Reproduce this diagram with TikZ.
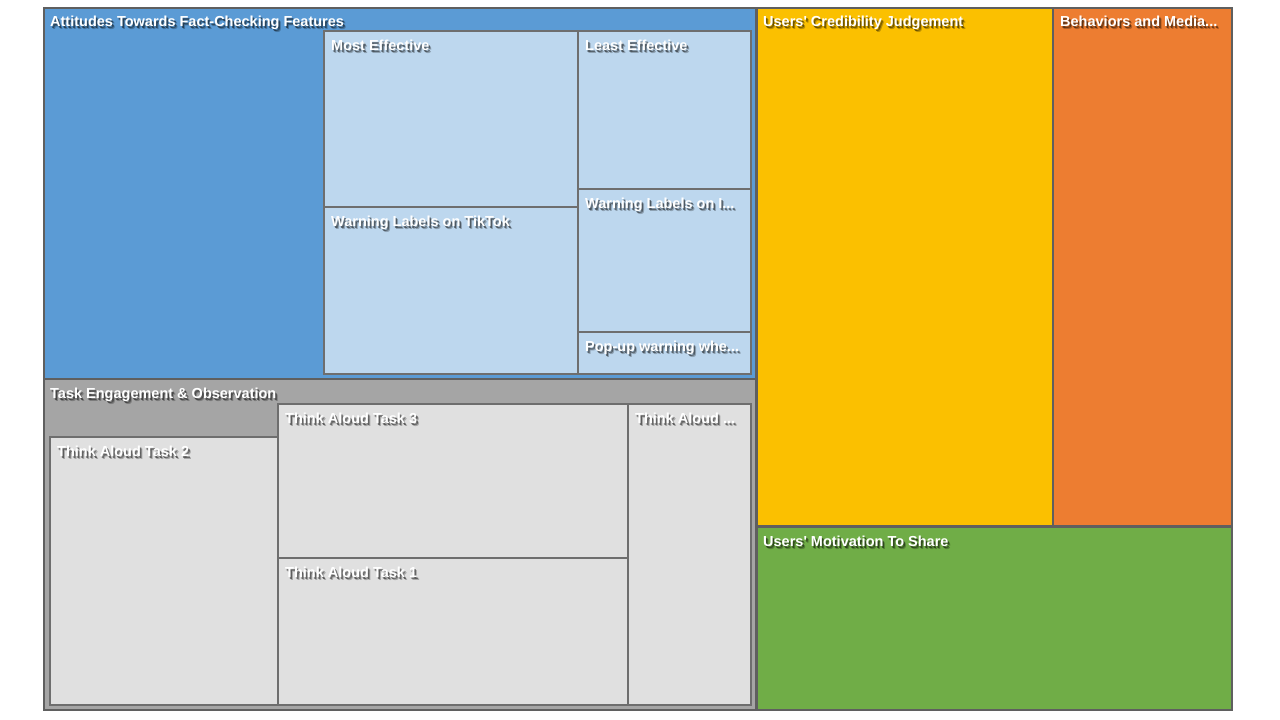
\documentclass[tikz,border=0pt]{standalone}
\usepackage{fontspec}
\setmainfont{Liberation Sans}[Ligatures=TeXOff]
\usepackage{tikz}
\usetikzlibrary{positioning}
\definecolor{attblue}{HTML}{5B9BD5}
\definecolor{attlight}{HTML}{BDD7EE}
\definecolor{taskgray}{HTML}{A5A5A5}
\definecolor{tasklight}{HTML}{E0E0E0}
\definecolor{credyellow}{HTML}{FBC000}
\definecolor{behorange}{HTML}{ED7D31}
\definecolor{motgreen}{HTML}{70AD47}
\definecolor{framegray}{HTML}{5F5F5F}
\definecolor{leafline}{HTML}{6E6E6E}
\newcommand{\labelfont}{\fontsize{14.5}{17}\selectfont\bfseries}
\tikzstyle{group} = [draw=framegray, line width=2.5pt]
\tikzstyle{leaf} = [draw=leafline, line width=1.3pt]
\tikzstyle{tmtext} = [anchor=base west, inner sep=0pt, text=white, font=\labelfont]
\tikzstyle{tmshadow} = [tmtext, text=black]
\newcommand{\tmlabel}[4]{%
  \node[tmshadow, opacity=0.45] at ({#2+1.5},{#3+2}) {#4};
  \node[tmshadow, opacity=0.25] at ({#2+2.5},{#3+3.5}) {#4};
  \node[tmtext] (#1) at (#2,#3) {#4};
}
\begin{document}
\begin{tikzpicture}[x=1pt, y=-1pt]
            \useasboundingbox (0,0) rectangle (1280,720);
            \fill[white] (0,0) rectangle (1280,720);

            % top level groups
            \draw[group, fill=attblue] (44,8) rectangle (756.5,379);
            \draw[group, fill=taskgray] (44,379) rectangle (756.5,710);
            \draw[group, fill=credyellow] (756.5,8) rectangle (1053,526.5);
            \draw[group, fill=behorange] (1053,8) rectangle (1232,526.5);
            \draw[group, fill=motgreen] (756.5,526.5) rectangle (1232,710);

            % attitudes
            \draw[leaf, fill=attlight] (324,31) rectangle (578,207);
            \draw[leaf, fill=attlight] (324,207) rectangle (578,374);
            \draw[leaf, fill=attlight] (578,31) rectangle (751,189);
            \draw[leaf, fill=attlight] (578,189) rectangle (751,332);
            \draw[leaf, fill=attlight] (578,332) rectangle (751,374);

            % task engagement
            \draw[leaf, fill=tasklight] (50,437) rectangle (278,705);
            \draw[leaf, fill=tasklight] (278,404) rectangle (628,558);
            \draw[leaf, fill=tasklight] (278,558) rectangle (628,705);
            \draw[leaf, fill=tasklight] (628,404) rectangle (751,705);

            \tmlabel{ATTITUDES}{50}{26}{Attitudes Towards Fact-Checking Features}
            \tmlabel{MOST}{331}{50}{Most Effective}
            \tmlabel{LEAST}{585}{50}{Least Effective}
            \tmlabel{TIKTOK}{331}{226}{Warning Labels on TikTok}
            \tmlabel{WARNI}{585}{208}{Warning Labels on I...}
            \tmlabel{POPUP}{585}{351}{Pop-up warning whe...}
            \tmlabel{TASK}{50}{398}{Task Engagement \& Observation}
            \tmlabel{TASKTWO}{57}{456}{Think Aloud Task 2}
            \tmlabel{TASKTHREE}{285}{423}{Think Aloud Task 3}
            \tmlabel{TASKONE}{285}{577}{Think Aloud Task 1}
            \tmlabel{TASKMORE}{635}{423}{Think Aloud ...}
            \tmlabel{CRED}{763}{26}{Users' Credibility Judgement}
            \tmlabel{BEHAV}{1060}{26}{Behaviors and Media...}
            \tmlabel{MOTIV}{763}{546}{Users' Motivation To Share}

\end{tikzpicture}
\end{document}
